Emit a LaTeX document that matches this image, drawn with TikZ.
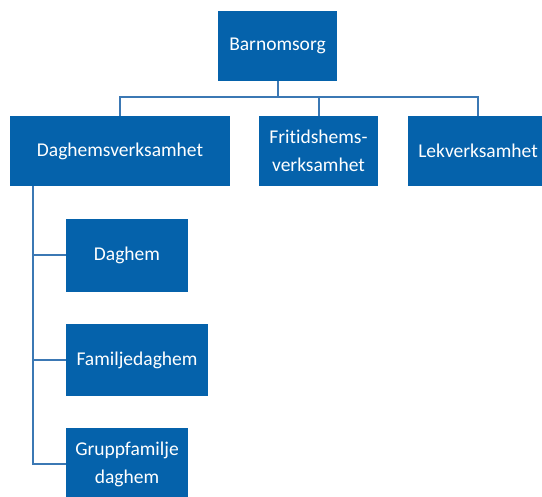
\documentclass[tikz,border=0pt]{standalone}
\usepackage{fontspec}
\setmainfont[Ligatures=NoCommon]{Carlito}
\definecolor{boxblue}{HTML}{0562AB}
\definecolor{lineblue}{HTML}{3B78B4}
\begin{document}
\begin{tikzpicture}[x=1pt,y=1pt,
  orgbox/.style={draw=none,fill=boxblue,text=white,font=\fontsize{19.5}{28}\selectfont,align=center,inner sep=0pt,anchor=center},
  conn/.style={draw=lineblue,line width=2pt}]
\useasboundingbox (0,0) rectangle (542,497);
\node[orgbox,minimum width=119,minimum height=70] (top) at (277.5,451) {Barnomsorg};
\node[orgbox,minimum width=220,minimum height=70] (dv) at (120,346) {Daghemsverksamhet};
\node[orgbox,minimum width=119,minimum height=70] (fv) at (318.5,346) {Fritidshems-\\verksamhet};
\node[orgbox,minimum width=140,minimum height=70] (lv) at (478,346) {Lekverksamhet};
\node[orgbox,minimum width=122,minimum height=73] (dag) at (127,241.5) {Daghem};
\node[orgbox,minimum width=142,minimum height=72] (fam) at (137,137) {Familjedaghem};
\node[orgbox,minimum width=122,minimum height=72] (grp) at (127,33) {Gruppfamilje\\daghem};
\coordinate (bus) at (277.5,400);
\coordinate (trunk) at (33,311);
\draw[conn] (top.south) -- (bus);
\draw[conn] (dv.north) |- (bus) -| (lv.north);
\draw[conn] (bus) -| (fv.north);
\draw[conn] (trunk) |- (dag.west);
\draw[conn] (trunk) |- (fam.west);
\draw[conn] (trunk) |- (grp.west);
\end{tikzpicture}
\end{document}
